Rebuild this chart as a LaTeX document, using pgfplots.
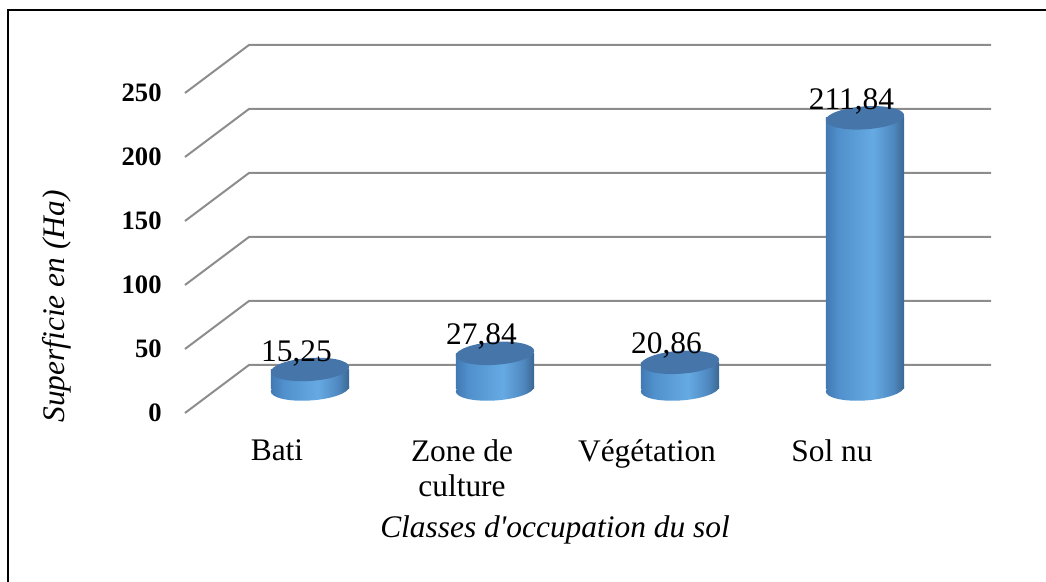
\documentclass[border=0pt]{standalone}
\usepackage{fontspec}
\setmainfont{Liberation Serif}
\usepackage{pgfplots}
\pgfplotsset{compat=1.18}
\definecolor{cylA}{HTML}{4279B2}
\definecolor{cylB}{HTML}{5090CC}
\definecolor{cylC}{HTML}{66AAE3}
\definecolor{cylD}{HTML}{4F88C0}
\definecolor{cylE}{HTML}{3A6792}
\definecolor{cyltop}{HTML}{4676A9}
\definecolor{gridc}{HTML}{8C8C8C}
\pgfdeclarehorizontalshading{cyl}{100bp}{color(0bp)=(cylA); color(25bp)=(cylA); color(33bp)=(cylB); color(55bp)=(cylC); color(68bp)=(cylD); color(75bp)=(cylE); color(100bp)=(cylE)}
\pgfdeclareplotmark{cylbot}{%
  \pgfpathellipse{\pgfpointorigin}{\pgfqpoint{19.6pt}{1.2pt}}{\pgfqpoint{0pt}{5.75pt}}%
  \pgfshadepath{cyl}{0}\pgfusepath{}}
\pgfdeclareplotmark{cyltop}{%
  \pgfpathellipse{\pgfpointorigin}{\pgfqpoint{19.6pt}{1.2pt}}{\pgfqpoint{0pt}{5.75pt}}%
  \pgfsetfillcolor{cyltop}\pgfusepath{fill}}
\pgfplotsset{cylbody/.style={ybar, bar width=39.2pt, draw=none, shading=cyl}}
\begin{document}
\begin{tikzpicture}
\begin{axis}[
  x=92.5pt, y=0.64pt,
  xmin=-1.675676, xmax=3.978378, ymin=-150.78125, ymax=303.90625,
  axis line style={draw=none},
  major tick length=0pt,
  clip=false,
  clip mode=individual,
  xtick={0,1,2,3},
  xticklabels={Bati, Zone de\\culture, Végétation, Sol nu},
  xticklabel style={anchor=north, align=center, inner sep=0pt,
    font=\fontsize{15.7}{17.5}\selectfont, xshift=-16.5pt, yshift=71.5pt},
  ytick={0,50,...,250},
  yticklabel style={anchor=east, inner sep=0pt,
    font=\bfseries\fontsize{13.3}{16}\selectfont, xshift=81pt, yshift=-12pt},
  /pgf/number format/assume math mode=true,
  xlabel={Classes d\textquotesingle occupation du sol},
  xlabel style={at={(axis description cs:0.5306,0.0756)}, anchor=base,
    font=\itshape\fontsize{15.7}{18}\selectfont},
  ylabel={Superficie en (Ha)},
  ylabel style={at={(axis description cs:0.06214,0.47337)}, anchor=base,
    font=\itshape\fontsize{15.7}{18}\selectfont},
]
% back wall gridlines with the diagonal side lines
\addplot[gridc, line width=1pt] coordinates {(-0.675676,-18.75) (-0.32973,18.75) (3.681081,18.75)};
\addplot[gridc, line width=1pt] coordinates {(-0.675676,31.25) (-0.32973,68.75) (3.681081,68.75)};
\addplot[gridc, line width=1pt] coordinates {(-0.675676,81.25) (-0.32973,118.75) (3.681081,118.75)};
\addplot[gridc, line width=1pt] coordinates {(-0.675676,131.25) (-0.32973,168.75) (3.681081,168.75)};
\addplot[gridc, line width=1pt] coordinates {(-0.675676,181.25) (-0.32973,218.75) (3.681081,218.75)};
\addplot[gridc, line width=1pt] coordinates {(-0.675676,231.25) (-0.32973,268.75) (3.681081,268.75)};
% cylinder bottoms
\addplot[only marks, mark=cylbot] coordinates {(0,0) (1,0) (2,0) (3,0)};
% cylinder bodies, one plot each so that each is shaded on its own
\addplot[cylbody] coordinates {(0,15.25)};
\addplot[cylbody] coordinates {(1,27.84)};
\addplot[cylbody] coordinates {(2,20.86)};
\addplot[cylbody] coordinates {(3,211.84)};
% cylinder tops with value labels
\addplot[only marks, mark=cyltop,
  nodes near coords={\pgfmathprintnumber[fixed,fixed zerofill,precision=2,use comma,assume math mode=true]{\pgfplotspointmeta}},
  nodes near coords style={anchor=base, inner sep=0pt, xshift=-6.75pt, yshift=4.2pt,
    font=\fontsize{15.7}{18}\selectfont, text=black}]
  coordinates {(0,15.25) (1,27.84) (2,20.86) (3,211.84)};
\coordinate (BL) at (rel axis cs:0,0);
\coordinate (TR) at (rel axis cs:1,1);
\draw[line width=0.75pt] (axis cs:-1.63243,-150.78125) -- (axis cs:-1.63243,296.09) -- (axis cs:3.978378,296.09);
\end{axis}
\pgfresetboundingbox
\path[use as bounding box] (BL) rectangle (TR);
\end{tikzpicture}
\end{document}
